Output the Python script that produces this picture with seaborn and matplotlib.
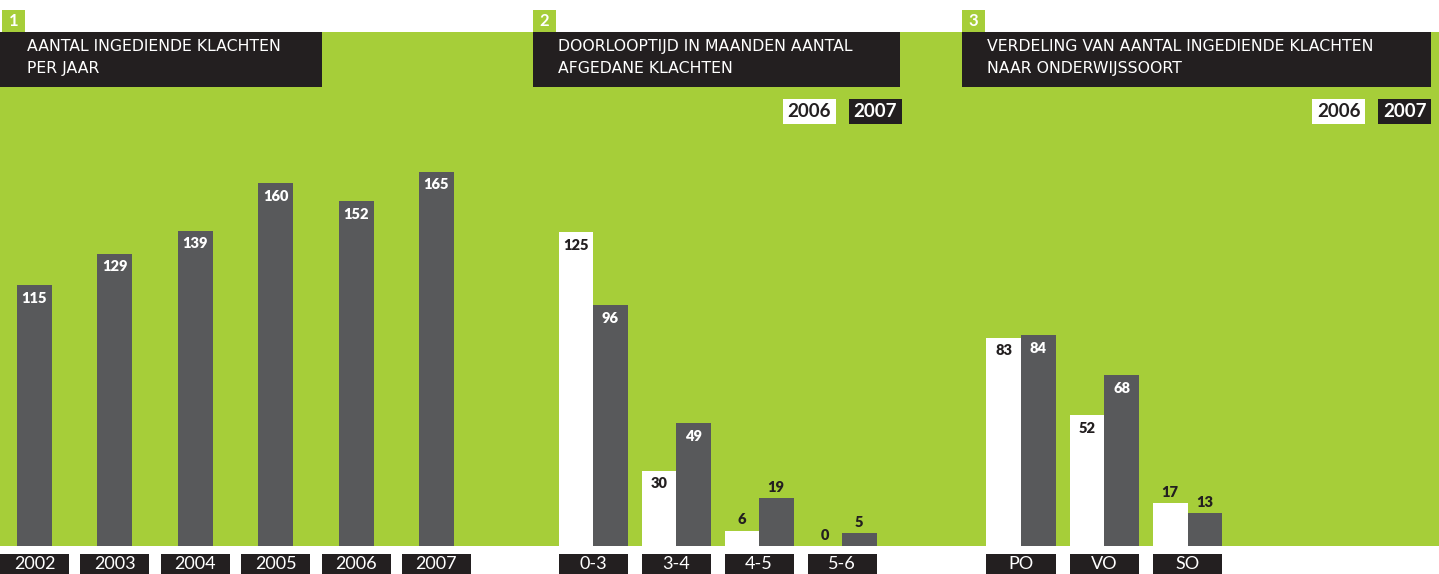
import matplotlib
matplotlib.use('Agg')
import matplotlib.pyplot as plt
import matplotlib.transforms as mtransforms
from matplotlib.patches import Rectangle
import seaborn as sns
import pandas as pd

# data
years = ['2002', '2003', '2004', '2005', '2006', '2007']
klachten_per_jaar = [115, 129, 139, 160, 152, 165]

duur_cats = ['0-3', '3-4', '4-5', '5-6']
duur_2006 = [125, 30, 6, 0]
duur_2007 = [96, 49, 19, 5]

soort_cats = ['PO', 'VO', 'SO']
soort_2006 = [83, 52, 17]
soort_2007 = [84, 68, 13]

titles = ['AANTAL INGEDIENDE KLACHTEN\nPER JAAR',
          'DOORLOOPTIJD IN MAANDEN AANTAL\nAFGEDANE KLACHTEN',
          'VERDELING VAN AANTAL INGEDIENDE KLACHTEN\nNAAR ONDERWIJSSOORT']
legend_years = ['2006', '2007']

GREEN = '#a6ce39'
DARK = '#58595b'
BLACK = '#231f20'
WHITE = '#ffffff'
NUMFONT = 'Lato'
TITLEFONT = 'DejaVu Sans'

W, H = 1439, 574
fig = plt.figure(figsize=(W / 100, H / 100), dpi=100)
fig.patch.set_facecolor('white')


def fy(y):
    # pixel y (from top) -> figure fraction
    return 1 - y / H


def frect(x0, y0, x1, y1, color, z=1):
    fig.add_artist(Rectangle((x0 / W, fy(y1)), (x1 - x0) / W, (y1 - y0) / H,
                             transform=fig.transFigure, facecolor=color,
                             edgecolor='none', zorder=z))


# green band
frect(0, 32, W, 546, GREEN, z=0)

# headers: number square + title box
headers = [(2, 322), (533, 900), (962, 1431)]
for i, (x0, x1) in enumerate(headers):
    frect(x0, 10, x0 + 23, 32, GREEN)
    fig.text((x0 + 11.5) / W, fy(21), str(i + 1), color=WHITE, fontsize=12,
             fontweight='bold', family=NUMFONT, ha='center', va='center')
    frect(x0 - 2 if i == 0 else x0, 32, x1, 87, BLACK)
    fig.text((x0 + 25) / W, fy(57.5), titles[i], color=WHITE, fontsize=11.3,
             family=TITLEFONT, ha='left', va='center', linespacing=1.65)

# legends for panel 2 and 3
for lx in [783, 1312]:
    frect(lx, 99, lx + 53, 124, WHITE)
    frect(lx + 66, 99, lx + 119, 124, BLACK)
    fig.text((lx + 26.5) / W, fy(111.5), legend_years[0], color=BLACK,
             fontsize=13.5, fontweight='bold', family=NUMFONT, ha='center', va='center')
    fig.text((lx + 92.5) / W, fy(111.5), legend_years[1], color=WHITE,
             fontsize=13.5, fontweight='bold', family=NUMFONT, ha='center', va='center')


def make_axes(px0, px1, first_center, spacing, px_per_unit):
    ax = fig.add_axes([px0 / W, fy(546), (px1 - px0) / W, (546 - 87) / H])
    ax.set_xlim((px0 - first_center) / spacing, (px1 - first_center) / spacing)
    ax.set_ylim(0, (546 - 87) / px_per_unit)
    return ax


def style_axes(ax, cats, spacing):
    ax.set_facecolor('none')
    for s in ax.spines.values():
        s.set_visible(False)
    ax.set_xlabel('')
    ax.set_ylabel('')
    ax.set_yticks([])
    ax.set_xticks([])
    trans = mtransforms.blended_transform_factory(ax.transData, fig.transFigure)
    half = 34.5 / spacing
    for i, c in enumerate(cats):
        ax.add_patch(Rectangle((i - half, fy(575)), 2 * half, 21 / H, transform=trans,
                               facecolor=BLACK, edgecolor='none', clip_on=False))
        ax.text(i, fy(564), c, transform=trans, color=WHITE, fontsize=13,
                family=NUMFONT, ha='center', va='center', clip_on=False)


def label_bars(ax, threshold):
    for bars in ax.containers:
        for b in bars:
            v = b.get_height()
            x = b.get_x() + b.get_width() / 2
            light = b.get_facecolor()[0] > 0.9
            if v >= threshold:
                dy, col = -13, (BLACK if light else WHITE)
            else:
                dy, col = 11, BLACK
            ax.annotate(f'{v:.0f}', (x, v), xytext=(0, dy * 0.72), textcoords='offset points',
                        ha='center', va='center', color=col, fontsize=10.5, fontweight='heavy',
                        family=NUMFONT)


# panel 1
sp1 = 80.4
ax1 = make_axes(0, 480, 34.5, sp1, 2.267)
df1 = pd.DataFrame({'jaar': years, 'klachten': klachten_per_jaar})
sns.barplot(data=df1, x='jaar', y='klachten', color=DARK, saturation=1,
            width=35 / sp1, errorbar=None, linewidth=0, ax=ax1)
ax1.set_xlim((0 - 34.5) / sp1, (480 - 34.5) / sp1)
label_bars(ax1, 20)
style_axes(ax1, years, sp1)

# panel 2
sp2 = 83.0
ax2 = make_axes(530, 905, 593, sp2, 2.51)
df2 = pd.DataFrame({'duur': duur_cats * 2,
                    'jaar': ['2006'] * len(duur_cats) + ['2007'] * len(duur_cats),
                    'aantal': duur_2006 + duur_2007})
sns.barplot(data=df2, x='duur', y='aantal', hue='jaar', palette={'2006': WHITE, '2007': DARK},
            saturation=1, width=69 / sp2, gap=0, errorbar=None, linewidth=0,
            legend=False, ax=ax2)
ax2.set_xlim((530 - 593) / sp2, (905 - 593) / sp2)
label_bars(ax2, 25)
style_axes(ax2, duur_cats, sp2)

# panel 3
sp3 = 83.25
ax3 = make_axes(960, 1439, 1021, sp3, 2.51)
df3 = pd.DataFrame({'soort': soort_cats * 2,
                    'jaar': ['2006'] * len(soort_cats) + ['2007'] * len(soort_cats),
                    'aantal': soort_2006 + soort_2007})
sns.barplot(data=df3, x='soort', y='aantal', hue='jaar', palette={'2006': WHITE, '2007': DARK},
            saturation=1, width=69 / sp3, gap=0, errorbar=None, linewidth=0,
            legend=False, ax=ax3)
ax3.set_xlim((960 - 1021) / sp3, (1439 - 1021) / sp3)
label_bars(ax3, 25)
style_axes(ax3, soort_cats, sp3)

fig.savefig('out.png', dpi=100, facecolor='white')
